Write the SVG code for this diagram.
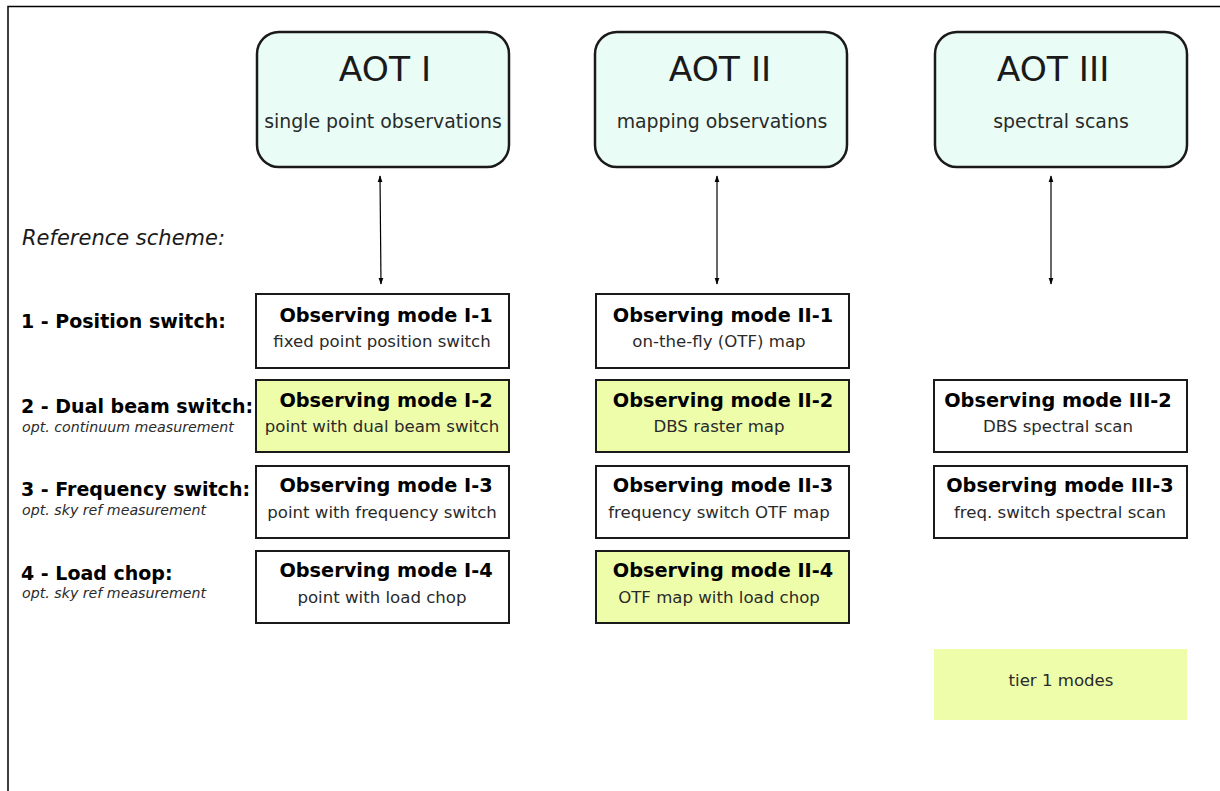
<svg xmlns="http://www.w3.org/2000/svg" width="1220" height="791" viewBox="0 0 1220 791">
<style>
text{font-family:"DejaVu Sans",Verdana,sans-serif;fill:#1a1a1a}
.aot{fill:#e9fdf6;stroke:#1a1a1a;stroke-width:2.5}
.mode{fill:#ffffff;stroke:#1a1a1a;stroke-width:2}
.tier{fill:#eefdaa;stroke:#1a1a1a;stroke-width:2}
.big{font-size:34.5px;text-anchor:middle}
.sub{font-size:18.9px;text-anchor:middle;fill:#2a2a2a}
.mt{font-size:19.3px;font-weight:bold;text-anchor:middle;fill:#000}
.ms{font-size:16.6px;text-anchor:middle;fill:#2a2a2a}
.lab{font-size:19px;font-weight:bold;fill:#000}
.opt{font-size:14.2px;font-style:italic;fill:#2a2a2a}
.conn{stroke:#000;stroke-width:1.2;fill:none;marker-start:url(#ah);marker-end:url(#ah)}
</style>
<defs>
<marker id="ah" viewBox="0 0 10 10" refX="9" refY="5" markerWidth="7" markerHeight="7" markerUnits="userSpaceOnUse" orient="auto-start-reverse">
<path d="M0,1.5 L10,5 L0,8.5 z" fill="#000"/>
</marker>
</defs>
<rect x="0" y="0" width="1220" height="791" fill="#fff"/>
<path d="M8,791 V6.5 H1220" fill="none" stroke="#000" stroke-width="1.5"/>

<g id="aot1"><rect class="aot" x="257" y="32" width="252" height="135" rx="22"/><text class="big" x="385" y="81">AOT I</text><text class="sub" x="383" y="128">single point observations</text></g>
<g id="aot2"><rect class="aot" x="595" y="32" width="252" height="135" rx="22"/><text class="big" x="720" y="81">AOT II</text><text class="sub" x="722" y="128">mapping observations</text></g>
<g id="aot3"><rect class="aot" x="935" y="32" width="252" height="135" rx="22"/><text class="big" x="1053" y="81">AOT III</text><text class="sub" x="1061" y="128">spectral scans</text></g>

<g id="connectors">
<line class="conn" x1="380" y1="176" x2="381" y2="284"/>
<line class="conn" x1="717" y1="176" x2="717" y2="284"/>
<line class="conn" x1="1051" y1="176" x2="1051" y2="284"/>
</g>

<text x="22" y="245" style="font-size:21px;font-style:italic;fill:#1a1a1a">Reference scheme:</text>

<g id="lab1"><text class="lab" x="21" y="328">1 - Position switch:</text></g>
<g id="lab2"><text class="lab" x="21" y="413">2 - Dual beam switch:</text><text class="opt" x="22" y="432">opt. continuum measurement</text></g>
<g id="lab3"><text class="lab" x="21" y="496">3 - Frequency switch:</text><text class="opt" x="22" y="515">opt. sky ref measurement</text></g>
<g id="lab4"><text class="lab" x="21" y="580">4 - Load chop:</text><text class="opt" x="22" y="598">opt. sky ref measurement</text></g>

<g id="m-I-1"><rect class="mode" x="256" y="294" width="253" height="74"/><text class="mt" x="386" y="322">Observing mode I-1</text><text class="ms" x="382" y="347">fixed point position switch</text></g>
<g id="m-I-2"><rect class="tier" x="256" y="380" width="253" height="72"/><text class="mt" x="386" y="407">Observing mode I-2</text><text class="ms" x="382" y="432">point with dual beam switch</text></g>
<g id="m-I-3"><rect class="mode" x="256" y="466" width="253" height="72"/><text class="mt" x="386" y="492">Observing mode I-3</text><text class="ms" x="382" y="518">point with frequency switch</text></g>
<g id="m-I-4"><rect class="mode" x="256" y="551" width="253" height="72"/><text class="mt" x="386" y="577">Observing mode I-4</text><text class="ms" x="382" y="603">point with load chop</text></g>

<g id="m-II-1"><rect class="mode" x="596" y="294" width="253" height="74"/><text class="mt" x="723" y="322">Observing mode II-1</text><text class="ms" x="719" y="347">on-the-fly (OTF) map</text></g>
<g id="m-II-2"><rect class="tier" x="596" y="380" width="253" height="72"/><text class="mt" x="723" y="407">Observing mode II-2</text><text class="ms" x="719" y="432">DBS raster map</text></g>
<g id="m-II-3"><rect class="mode" x="596" y="466" width="253" height="72"/><text class="mt" x="723" y="492">Observing mode II-3</text><text class="ms" x="719" y="518">frequency switch OTF map</text></g>
<g id="m-II-4"><rect class="tier" x="596" y="551" width="253" height="72"/><text class="mt" x="723" y="577">Observing mode II-4</text><text class="ms" x="719" y="603">OTF map with load chop</text></g>

<g id="m-III-2"><rect class="mode" x="934" y="380" width="253" height="72"/><text class="mt" x="1058" y="407">Observing mode III-2</text><text class="ms" x="1058" y="432">DBS spectral scan</text></g>
<g id="m-III-3"><rect class="mode" x="934" y="466" width="253" height="72"/><text class="mt" x="1060" y="492">Observing mode III-3</text><text class="ms" x="1060" y="518">freq. switch spectral scan</text></g>

<g id="legend"><rect x="934" y="649" width="253" height="71" fill="#eefdaa"/><text class="ms" x="1061" y="686">tier 1 modes</text></g>
</svg>
